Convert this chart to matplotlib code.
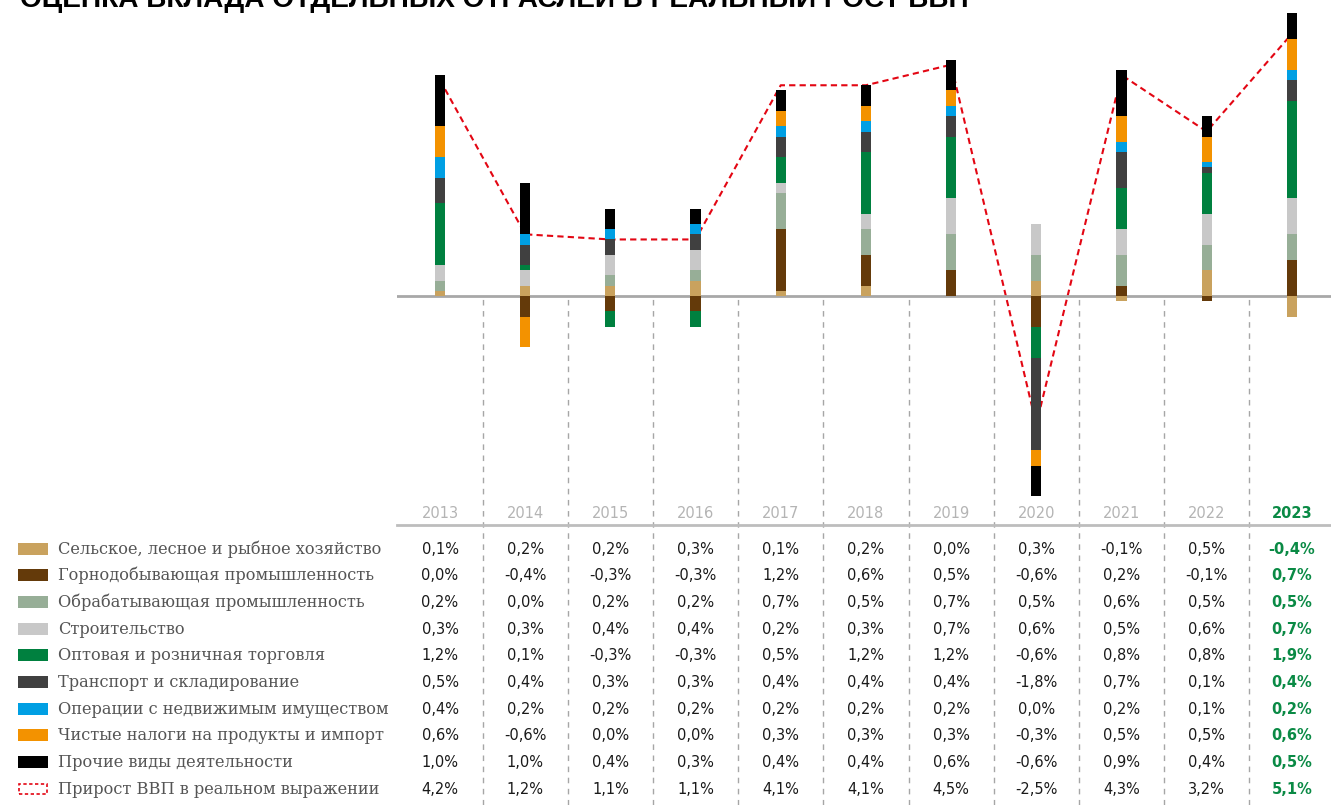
import numpy as np
import matplotlib
matplotlib.use('Agg')
import matplotlib.pyplot as plt
import matplotlib.transforms as mtransforms
from matplotlib.patches import Rectangle
from matplotlib.lines import Line2D

# data
years = ['2013', '2014', '2015', '2016', '2017', '2018', '2019', '2020', '2021', '2022', '2023']
sectors = ['Сельское, лесное и рыбное хозяйство',
           'Горнодобывающая промышленность',
           'Обрабатывающая промышленность',
           'Строительство',
           'Оптовая и розничная торговля',
           'Транспорт и складирование',
           'Операции с недвижимым имуществом',
           'Чистые налоги на продукты и импорт',
           'Прочие виды деятельности']
agri = [0.1, 0.2, 0.2, 0.3, 0.1, 0.2, 0.0, 0.3, -0.1, 0.5, -0.4]
mining = [0.0, -0.4, -0.3, -0.3, 1.2, 0.6, 0.5, -0.6, 0.2, -0.1, 0.7]
manuf = [0.2, 0.0, 0.2, 0.2, 0.7, 0.5, 0.7, 0.5, 0.6, 0.5, 0.5]
constr = [0.3, 0.3, 0.4, 0.4, 0.2, 0.3, 0.7, 0.6, 0.5, 0.6, 0.7]
trade = [1.2, 0.1, -0.3, -0.3, 0.5, 1.2, 1.2, -0.6, 0.8, 0.8, 1.9]
transport = [0.5, 0.4, 0.3, 0.3, 0.4, 0.4, 0.4, -1.8, 0.7, 0.1, 0.4]
realty = [0.4, 0.2, 0.2, 0.2, 0.2, 0.2, 0.2, 0.0, 0.2, 0.1, 0.2]
taxes = [0.6, -0.6, 0.0, 0.0, 0.3, 0.3, 0.3, -0.3, 0.5, 0.5, 0.6]
other = [1.0, 1.0, 0.4, 0.3, 0.4, 0.4, 0.6, -0.6, 0.9, 0.4, 0.5]
gdp_label = 'Прирост ВВП в реальном выражении'
gdp = [4.2, 1.2, 1.1, 1.1, 4.1, 4.1, 4.5, -2.5, 4.3, 3.2, 5.1]

series = [agri, mining, manuf, constr, trade, transport, realty, taxes, other]
colors = ['#C9A25E', '#643A0A', '#97AE97', '#C8C8C8', '#00803F',
          '#404040', '#009FE3', '#F39200', '#000000']
red = '#E30613'
green = '#0A8A45'

W, H = 1331, 805
def fx(px):
    return px / W
def fy(py):
    return 1 - py / H

fig = plt.figure(figsize=(W / 100, H / 100), dpi=100)

# chart axes spans the whole height, zero at y=296px, 51.4 px per 1%
zero_px, scale = 296, 51.4
ax = fig.add_axes([fx(397), 0, fx(W) - fx(397), 1])
ax.set_xlim(-0.505, 10.46)
ax.set_ylim(-(H - zero_px) / scale, zero_px / scale)
ax.axis('off')

x = np.arange(len(years))

# red dashed gdp line (behind bars)
ax.plot(x, gdp, color=red, lw=1.5, ls=(0, (3, 2)), zorder=1)

pos = np.zeros(len(years))
neg = np.zeros(len(years))
for vals, c in zip(series, colors):
    v = np.array(vals)
    bottom = np.where(v >= 0, pos, neg)
    ax.bar(x, v, width=0.12, bottom=bottom, color=c, zorder=3)
    pos += np.where(v > 0, v, 0)
    neg += np.where(v < 0, v, 0)

ax.axhline(0, color='#a8a8a8', lw=2, zorder=2)
ax.vlines(x[:-1] + 0.5, ax.get_ylim()[0], 0, colors='#a6a6a6', lw=1,
          linestyles=(0, (4, 4)), zorder=0)

# title, clipped at the top like the source
fig.text(fx(20), fy(7), 'ОЦЕНКА ВКЛАДА ОТДЕЛЬНЫХ ОТРАСЛЕЙ В РЕАЛЬНЫЙ РОСТ ВВП',
         family='Liberation Sans', weight='bold', fontsize=20.2, va='baseline', ha='left')

# table
tr = mtransforms.blended_transform_factory(ax.transData, fig.transFigure)
header_y = 513
for i, yr in enumerate(years):
    last = i == len(years) - 1
    ax.text(i, fy(header_y), yr, transform=tr, ha='center', va='center',
            family='DejaVu Sans', fontsize=10.5,
            color=green if last else '#b4b4b4', weight='bold' if last else 'normal')
fig.add_artist(Line2D([fx(397), 1], [fy(525), fy(525)], color='#bdbdbd', lw=2))

row_y = [549, 575, 602, 629, 655, 682, 709, 735, 762, 789]
rows = series + [gdp]
labels = sectors + [gdp_label]
for r, (vals, lab, py) in enumerate(zip(rows, labels, row_y)):
    if r < len(colors):
        fig.add_artist(Rectangle((fx(18), fy(py + 6)), fx(30), 12 / H,
                                 transform=fig.transFigure, color=colors[r], lw=0))
    else:
        fig.add_artist(Rectangle((fx(19), fy(py + 5)), fx(28), 10 / H,
                                 transform=fig.transFigure, facecolor='none',
                                 edgecolor=red, lw=1.2, ls=(0, (2, 1.5))))
    fig.text(fx(58), fy(py), lab, family='DejaVu Serif', fontsize=11.7,
             color='#555555', va='center', ha='left')
    for i, v in enumerate(vals):
        last = i == len(vals) - 1
        s = f'{v:.1f}'.replace('.', ',') + '%'
        ax.text(i, fy(py), s, transform=tr, ha='center', va='center',
                family='DejaVu Sans', fontsize=10.5,
                color=green if last else '#1a1a1a', weight='bold' if last else 'normal')

fig.savefig('out.png', dpi=100)
